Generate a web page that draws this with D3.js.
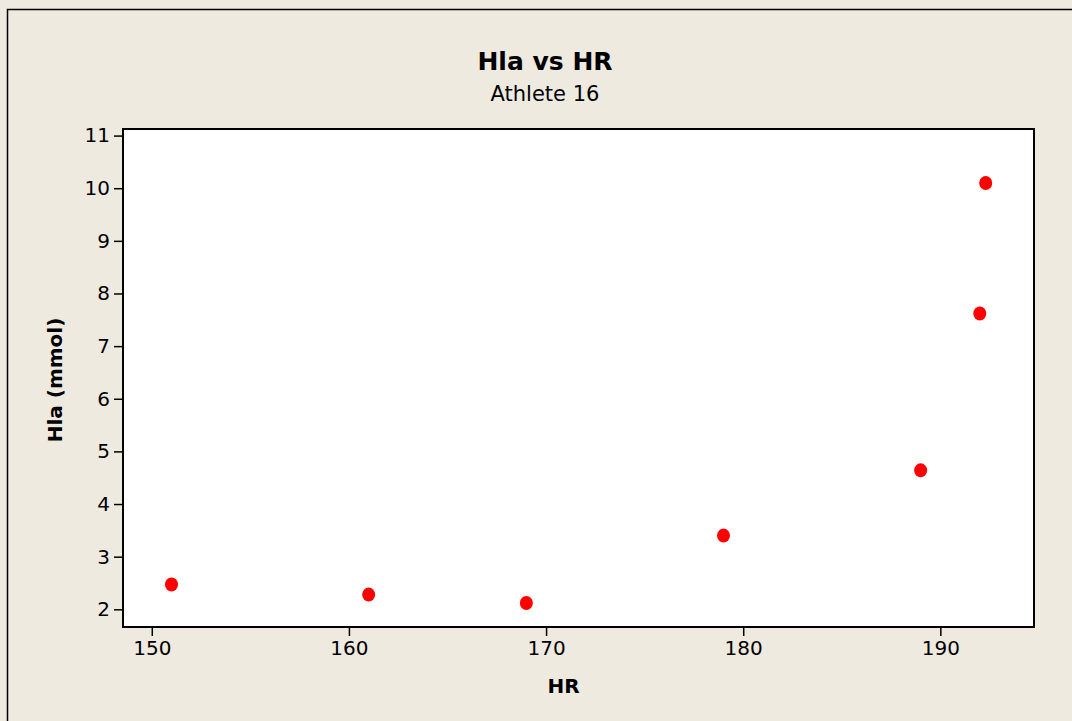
<!DOCTYPE html>
<html lang="en">
<head>
    <meta charset="UTF-8">
    <title>Hla vs HR</title>
    <script src="https://d3js.org/d3.v7.min.js"></script>
    <style>
        body { margin: 0; background: #eeeae0; }
        text { font-family: "DejaVu Sans", Verdana, sans-serif; fill: #000; }
    </style>
</head>
<body>
    <div id="chart"></div>
    <script>
        // Heart rate (x) and blood lactate (y) readings
        var hrValues = [151.0, 161.0, 169.0, 179.0, 189.0, 192.0, 192.3];
        var hlaValues = [2.47, 2.28, 2.12, 3.40, 4.64, 7.62, 10.1];
        var xTicks = [150, 160, 170, 180, 190];
        var yTicks = [2, 3, 4, 5, 6, 7, 8, 9, 10, 11];

        var width = 1072, height = 721;
        var plot = { left: 123, top: 129, right: 1034, bottom: 627 };

        var svg = d3.select("#chart").append("svg")
            .attr("width", width)
            .attr("height", height);

        // background and the frame edges that show in the crop
        svg.append("rect").attr("width", width).attr("height", height).attr("fill", "#eeeae0");
        svg.append("path")
            .attr("d", "M7.5," + height + "V9.5H" + width)
            .attr("fill", "none").attr("stroke", "#000").attr("stroke-width", 1.5);

        var x = d3.scaleLinear().domain([148.54, 194.75]).range([plot.left, plot.right]);
        var y = d3.scaleLinear().domain([1.664, 11.125]).range([plot.bottom, plot.top]);

        svg.append("rect")
            .attr("x", plot.left).attr("y", plot.top)
            .attr("width", plot.right - plot.left).attr("height", plot.bottom - plot.top)
            .attr("fill", "#fff");

        // axes
        var xAxis = svg.append("g")
            .attr("transform", "translate(0," + plot.bottom + ")")
            .call(d3.axisBottom(x).tickValues(xTicks).tickSize(9).tickPadding(5).tickFormat(d3.format("d")));
        var yAxis = svg.append("g")
            .attr("transform", "translate(" + plot.left + ",0)")
            .call(d3.axisLeft(y).tickValues(yTicks).tickSize(9).tickPadding(4).tickFormat(d3.format("d")));

        [xAxis, yAxis].forEach(function (g) {
            g.select(".domain").remove();
            g.selectAll(".tick line").attr("stroke", "#000").attr("stroke-width", 1.5);
            g.selectAll(".tick text").style("font-size", "20px").attr("fill", "#000");
        });

        // frame around plot area
        svg.append("rect")
            .attr("x", plot.left).attr("y", plot.top)
            .attr("width", plot.right - plot.left).attr("height", plot.bottom - plot.top)
            .attr("fill", "none").attr("stroke", "#000").attr("stroke-width", 2);

        // points
        svg.selectAll(".pt")
            .data(hrValues.map(function (d, i) { return { hr: d, hla: hlaValues[i] }; }))
            .enter().append("ellipse")
            .attr("class", "pt")
            .attr("cx", function (d) { return x(d.hr); })
            .attr("cy", function (d) { return y(d.hla); })
            .attr("rx", 6.5).attr("ry", 7)
            .attr("fill", "#ff0000");

        // titles
        svg.append("text")
            .attr("x", 545).attr("y", 70)
            .attr("text-anchor", "middle")
            .style("font-size", "25px").style("font-weight", "bold")
            .text("Hla vs HR");
        svg.append("text")
            .attr("x", 545).attr("y", 101)
            .attr("text-anchor", "middle")
            .style("font-size", "21px")
            .text("Athlete 16");

        svg.append("text")
            .attr("x", (plot.left + plot.right) / 2 - 15).attr("y", 693)
            .attr("text-anchor", "middle")
            .style("font-size", "20px").style("font-weight", "bold")
            .text("HR");
        svg.append("text")
            .attr("transform", "translate(62," + ((plot.top + plot.bottom) / 2 + 2) + ") rotate(-90)")
            .attr("text-anchor", "middle")
            .style("font-size", "20px").style("font-weight", "bold")
            .text("Hla (mmol)");
    </script>
</body>
</html>
